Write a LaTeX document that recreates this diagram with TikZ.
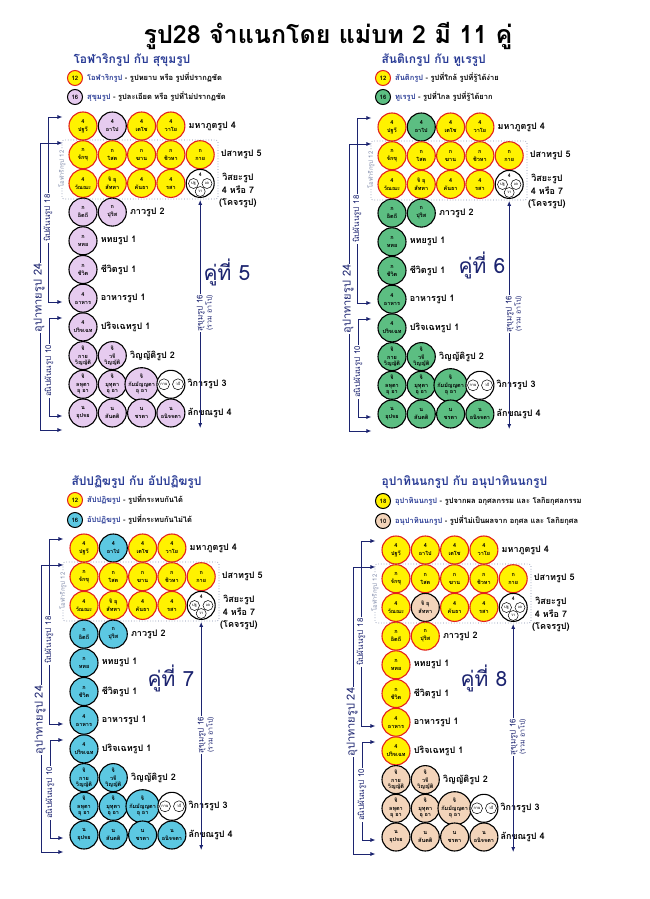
\documentclass[tikz,border=0pt]{standalone}
\usepackage{fontspec}
\newfontfamily\thaifont[Script=Thai]{Loma}
\usetikzlibrary{arrows.meta, positioning}

\definecolor{rupayel}{HTML}{FFF200}
\definecolor{rupared}{HTML}{E3211C}
\definecolor{rupalil}{HTML}{E6CBEF}
\definecolor{rupagrn}{HTML}{5CBE82}
\definecolor{rupacyn}{HTML}{5CC8E2}
\definecolor{rupabei}{HTML}{F3D4BA}
\definecolor{ink}{HTML}{2A3C96}
\definecolor{navy}{HTML}{1C2470}
\definecolor{dotgray}{HTML}{7D88A8}

\tikzset{
  cell/.style={circle, draw, line width=1.1pt, minimum size=28pt, inner sep=0pt,
    align=center, font=\thaifont\bfseries\fontsize{5.5}{6}\selectfont},
  yel/.style={fill=rupayel, draw=rupared},
  lil/.style={fill=rupalil, draw=black},
  grn/.style={fill=rupagrn, draw=black},
  cyn/.style={fill=rupacyn, draw=black},
  bei/.style={fill=rupabei, draw=black},
  mini/.style={circle, draw, line width=0.5pt, minimum size=10pt, inner sep=0pt,
    fill=white, font=\thaifont\fontsize{4}{4}\selectfont},
  rlab/.style={font=\thaifont\bfseries\fontsize{9}{12}\selectfont, inner sep=1pt},
  vlab/.style={rotate=90, fill=white, inner sep=1pt, text=navy,
    font=\thaifont\fontsize{8}{9}\selectfont},
  arr/.style={navy, line width=0.8pt, {Latex[length=5pt,width=4pt]}-{Latex[length=5pt,width=4pt]}},
  head/.style={anchor=west, text=ink, font=\thaifont\bfseries\fontsize{12}{14}\selectfont},
  lgc/.style={circle, draw, line width=1pt, minimum size=15pt, inner sep=0pt,
    font=\thaifont\bfseries\fontsize{6}{6}\selectfont},
  ltext/.style={inner sep=0pt, font=\thaifont\bfseries\fontsize{7.5}{9}\selectfont},
  pair/.style={text=navy, font=\thaifont\fontsize{21}{24}\selectfont},
}

\begin{document}
\begin{tikzpicture}[x=1pt, y=-1pt]
\fill[white] (0,0) rectangle (650,899);
\useasboundingbox (0,0) rectangle (650,899);

\node[font=\thaifont\bfseries\fontsize{25}{30}\selectfont] (title) at (328,36) {รูป28 จำแนกโดย แม่บท 2 มี 11 คู่};

% four panels, same layout
\foreach \k/\dx/\dy/\sa/\sc/\ss in {1/83/126/lil/lil/yel, 2/392/127/grn/grn/yel, 3/84/548/cyn/cyn/yel, 4/396/550/yel/bei/bei}{
\begin{scope}[shift={(\dx,\dy)}]
  \foreach \cl/\rw/\st/\tp/\nm in {0/0/yel/4/ปฐวี, 1/0/\sa/4/อาโป, 2/0/yel/4/เตโช, 3/0/yel/4/วาโย,
      0/1/yel/ก/จักขุ, 1/1/yel/ก/โสต, 2/1/yel/ก/ฆาน, 3/1/yel/ก/ชิวหา, 4/1/yel/ก/กาย,
      0/2/yel/4/วัณณะ, 1/2/\ss/จิ อุ/สัททา, 2/2/yel/4/คันธา, 3/2/yel/4/รสา,
      0/3/\sa/ก/อิตถี, 1/3/\sa/ก/ปุริส, 0/4/\sa/ก/หทย, 0/5/\sa/ก/ชีวิต,
      0/6/\sa/4/อาหาร, 0/7/\sa/4/ปริจเฉท,
      0/8/\sc/จิ/กาย\\วิญญัติ, 1/8/\sc/จิ/วจี\\วิญญัติ,
      0/9/\sc/จิ/ลหุตา\\อุ อา, 1/9/\sc/จิ/มุทุตา\\อุ อา, 2/9/\sc/จิ/กัมมัญญตา\\อุ อา,
      0/10/\sc/น/อุปจย, 1/10/\sc/น/สันตติ, 2/10/\sc/น/ชรตา, 3/10/\sc/น/อนิจจตา}
    \node[cell,\st] (c\k-\cl-\rw) at ({\cl*29.3},{\rw*28.7}) {\tp\\[2pt]\nm};

  % visaya 4 or 7, vikara
  \node[cell, fill=white, draw=black] (v\k) at (117.2,57.4) {};
  \node[inner sep=0pt, font=\thaifont\bfseries\fontsize{5}{5}\selectfont] (v\k-n) at (117.2,49) {4};
  \node[mini] (v\k-a) at (110.5,57.5) {ปฐ};
  \node[mini] (v\k-b) at (124,57.5) {เต};
  \node[mini] (v\k-c) at (117.2,65.5) {วา};
  \node[cell, fill=white, draw=black] (w\k) at (87.9,258.3) {};
  \node[mini, minimum size=11pt] (w\k-a) at (81,258.3) {กาย};
  \node[mini, minimum size=11pt] (w\k-b) at (95,258.3) {วจี};

  % row names
  \node[rlab, right=2pt of c\k-3-0] (m\k) {มหาภูตรูป 4};
  \node[rlab, right=5pt of c\k-4-1] (ps\k) {ปสาทรูป 5};
  \node[rlab, align=center, anchor=north west] (vs\k) at (135,46) {วิสยะรูป\\[1pt]4 หรือ 7\\(โคจรรูป)};
  \node[rlab, right=2pt of c\k-1-3] (bh\k) {ภาวรูป 2};
  \node[rlab, right=2pt of c\k-0-4] (ht\k) {หทยรูป 1};
  \node[rlab, right=2pt of c\k-0-5] (jv\k) {ชีวิตรูป 1};
  \node[rlab, right=2pt of c\k-0-6] (ah\k) {อาหารรูป 1};
  \node[rlab, right=2pt of c\k-0-7] (pc\k) {ปริจเฉทรูป 1};
  \node[rlab, right=2pt of c\k-1-8] (vn\k) {วิญญัติรูป 2};
  \node[rlab, right=1pt of w\k] (vk\k) {วิการรูป 3};
  \node[rlab, right=1pt of c\k-3-10] (lk\k) {ลักขณรูป 4};

  % olarika box
  \draw[dotgray, dotted, line width=0.7pt, rounded corners=2pt] (-21,14) rectangle (135,73);
  \node[rotate=90, fill=white, inner sep=0.5pt, text=dotgray, font=\thaifont\fontsize{6}{6}\selectfont] (ol\k) at (-21,43) {โอฬาริกรูป 12};

  % brackets on the left
  \coordinate (nt\k) at (-35,-9);
  \coordinate (nb\k) at (-35,176);
  \coordinate (ut\k) at (-43,17);
  \coordinate (ub\k) at (-43,304);
  \coordinate (at\k) at (-34,192);
  \coordinate (ab\k) at (-34,290);
  \draw[arr, shorten <=6pt, shorten >=6pt] (nt\k -| c\k-0-0.west) -- (nt\k) -- (nb\k) -- (nb\k -| c\k-0-6.west);
  \draw[arr, shorten <=6pt, shorten >=6pt] (ut\k -| c\k-0-1.west) -- (ut\k) -- (ub\k) -- (ub\k -| c\k-0-10.west);
  \draw[arr, shorten <=6pt, shorten >=6pt] (at\k -| c\k-0-7.west) -- (at\k) -- (ab\k) -- (ab\k -| c\k-0-10.west);
  \node[vlab] (nl\k) at (-35,92) {นิปผันนรูป 18};
  \node[vlab, font=\thaifont\fontsize{11}{12}\selectfont] (ul\k) at (-44,172) {อุปาทายรูป 24};
  \node[vlab] (al\k) at (-34,245) {อนิปผันนรูป 10};

  % sukhuma arrow
  \coordinate (sb\k) at (117.2,302);
  \draw[arr, shorten <=2pt] (v\k.south) -- (sb\k);
  \node[vlab, align=center] (sl\k) at (122,187) {สุขุมรูป 16\\{\fontsize{7}{8}\selectfont(รวม อาโป)}};
\end{scope}
}

% panel 1
\node[head] (h1) at (70,60) {โอฬาริกรูป กับ สุขุมรูป};
\node[lgc,yel] (l1a) at (75,78) {12};
\node[ltext, right=4pt of l1a] (t1a) {\textcolor{ink}{โอฬาริกรูป} - รูปหยาบ หรือ รูปที่ปรากฏชัด};
\node[lgc,lil] (l1b) at (75,97) {16};
\node[ltext, right=4pt of l1b] (t1b) {\textcolor{ink}{สุขุมรูป} - รูปละเอียด หรือ รูปที่ไม่ปรากฏชัด};
\node[pair] (k1) at (227,272) {คู่ที่ 5};

% panel 2
\node[head] (h2) at (378,60) {สันติเกรูป กับ ทูเรรูป};
\node[lgc,yel] (l2a) at (383,78) {12};
\node[ltext, right=4pt of l2a] (t2a) {\textcolor{ink}{สันติกรูป} - รูปที่ใกล้ รูปที่รู้ได้ง่าย};
\node[lgc,grn] (l2b) at (383,97) {16};
\node[ltext, right=4pt of l2b] (t2b) {\textcolor{ink}{ทูเรรูป} - รูปที่ไกล รูปที่รู้ได้ยาก};
\node[pair] (k2) at (482,265) {คู่ที่ 6};

% panel 3
\node[head] (h3) at (68,482) {สัปปฏิฆรูป กับ อัปปฏิฆรูป};
\node[lgc,yel] (l3a) at (75,500) {12};
\node[ltext, right=4pt of l3a] (t3a) {\textcolor{ink}{สัปปฏิฆรูป} - รูปที่กระทบกันได้};
\node[lgc,cyn] (l3b) at (75,520) {16};
\node[ltext, right=4pt of l3b] (t3b) {\textcolor{ink}{อัปปฏิฆรูป} - รูปที่กระทบกันไม่ได้};
\node[pair] (k3) at (171,678) {คู่ที่ 7};

% panel 4
\node[head] (h4) at (378,482) {อุปาทินนกรูป กับ อนุปาทินนกรูป};
\node[lgc,yel,draw=black] (l4a) at (383,501) {18};
\node[ltext, right=4pt of l4a] (t4a) {\textcolor{ink}{อุปาทินนกรูป} - รูปจากผล อกุศลกรรม และ โลกิยกุศลกรรม};
\node[lgc,bei] (l4b) at (383,521) {10};
\node[ltext, right=4pt of l4b] (t4b) {\textcolor{ink}{อนุปาทินนกรูป} - รูปที่ไม่เป็นผลจาก อกุศล และ โลกิยกุศล};
\node[pair] (k4) at (484,678) {คู่ที่ 8};
\end{tikzpicture}
\end{document}
